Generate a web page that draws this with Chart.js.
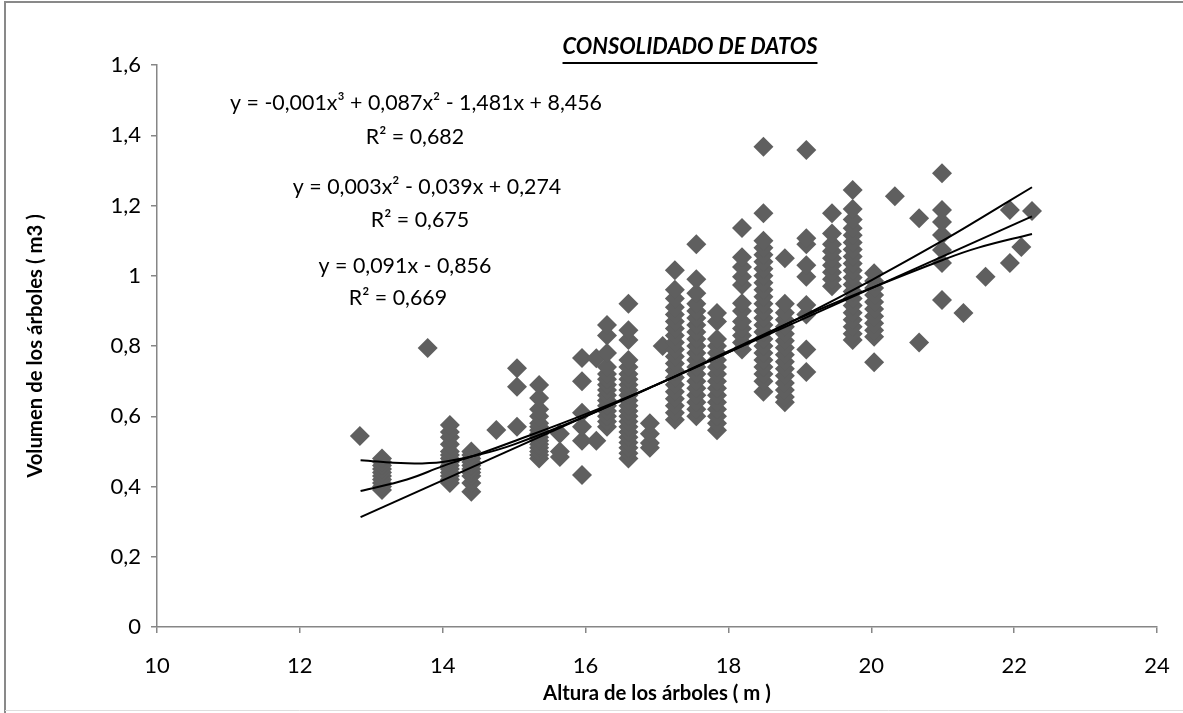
<!DOCTYPE html>
<html>
<head>
<meta charset="utf-8">
<script src="https://cdn.jsdelivr.net/npm/chart.js@4/dist/chart.umd.min.js"></script>
<style>
  body { margin: 0; background: #fff; }
  #wrap { width: 1183px; height: 713px; position: relative; }
</style>
</head>
<body>
<div id="wrap"><canvas id="grafico"></canvas></div>
<script>
// alturas (m) de cada grupo de árboles y sus volúmenes (m3)
const alturas = [12.84, 13.15, 13.79, 14.10, 14.40, 14.75, 15.04, 15.35, 15.64, 15.95, 16.15,
  16.30, 16.60, 16.90, 17.08, 17.25, 17.55, 17.84, 18.19, 18.49, 18.79, 19.09, 19.45, 19.74,
  20.04, 20.33, 20.67, 20.99, 21.29, 21.60, 21.94, 22.10, 22.25];

const volumenes = [
  [0.544],
  [0.39, 0.40, 0.41, 0.42, 0.43, 0.44, 0.45, 0.46, 0.47, 0.48],
  [0.794],
  [0.41, 0.42, 0.43, 0.44, 0.45, 0.46, 0.47, 0.48, 0.49, 0.50, 0.52, 0.54, 0.555, 0.575],
  [0.385, 0.41, 0.43, 0.44, 0.45, 0.46, 0.47, 0.48, 0.49, 0.50],
  [0.561],
  [0.57, 0.684, 0.737],
  [0.48, 0.49, 0.50, 0.51, 0.52, 0.53, 0.54, 0.55, 0.56, 0.57, 0.58, 0.60, 0.62, 0.652, 0.689],
  [0.484, 0.50, 0.55],
  [0.433, 0.53, 0.57, 0.61, 0.70, 0.766],
  [0.53, 0.765],
  [0.57, 0.585, 0.60, 0.615, 0.63, 0.645, 0.66, 0.675, 0.69, 0.705, 0.72, 0.74, 0.78, 0.83, 0.86],
  [0.48, 0.495, 0.51, 0.525, 0.54, 0.555, 0.57, 0.585, 0.60, 0.615, 0.63, 0.645, 0.66, 0.675,
   0.69, 0.705, 0.72, 0.74, 0.76, 0.817, 0.845, 0.92],
  [0.51, 0.524, 0.55, 0.58],
  [0.80],
  [0.59, 0.61, 0.63, 0.65, 0.67, 0.69, 0.71, 0.73, 0.75, 0.77, 0.79, 0.81, 0.83, 0.85, 0.87,
   0.89, 0.91, 0.935, 0.96, 1.016],
  [0.60, 0.62, 0.64, 0.66, 0.68, 0.70, 0.72, 0.74, 0.76, 0.78, 0.80, 0.82, 0.84, 0.86, 0.88,
   0.90, 0.92, 0.95, 0.99, 1.09],
  [0.56, 0.58, 0.60, 0.62, 0.64, 0.66, 0.68, 0.70, 0.72, 0.74, 0.76, 0.78, 0.80, 0.82, 0.87, 0.894],
  [0.79, 0.81, 0.83, 0.85, 0.87, 0.90, 0.922, 0.974, 0.997, 1.025, 1.053, 1.136],
  [0.67, 0.70, 0.72, 0.74, 0.76, 0.78, 0.80, 0.82, 0.84, 0.86, 0.88, 0.90, 0.92, 0.94, 0.96,
   0.98, 1.00, 1.02, 1.04, 1.06, 1.08, 1.10, 1.178, 1.367],
  [0.64, 0.655, 0.675, 0.695, 0.715, 0.735, 0.755, 0.775, 0.795, 0.815, 0.835, 0.855, 0.875,
   0.895, 0.92, 1.05],
  [0.726, 0.79, 0.89, 0.917, 0.997, 1.03, 1.09, 1.107, 1.358],
  [0.97, 0.99, 1.01, 1.03, 1.05, 1.07, 1.09, 1.12, 1.178],
  [0.817, 0.835, 0.855, 0.875, 0.895, 0.915, 0.935, 0.955, 0.975, 0.995, 1.015, 1.035, 1.055,
   1.075, 1.095, 1.115, 1.135, 1.16, 1.19, 1.244],
  [0.754, 0.826, 0.845, 0.865, 0.885, 0.905, 0.925, 0.945, 0.965, 0.985, 1.007],
  [1.226],
  [0.81, 1.164],
  [0.931, 1.036, 1.073, 1.116, 1.153, 1.187, 1.292],
  [0.894],
  [0.997],
  [1.036, 1.187],
  [1.082],
  [1.184]
];

// líneas de tendencia
const tendX = [12.85, 13.5, 14, 14.5, 15, 16, 17, 18, 19, 20, 21, 21.5, 22.25];
const tendPolinomica = [0.475, 0.466, 0.47, 0.49, 0.52, 0.60, 0.69, 0.785, 0.88, 0.965, 1.045, 1.08, 1.119];
const tendCuadratica = [0.387, 0.42, 0.458, 0.492, 0.529, 0.606, 0.69, 0.782, 0.881, 0.987, 1.10, 1.16, 1.252];
const tendLinealX = [12.85, 22.25];
const tendLineal = [0.313, 1.169];

const etiquetasX = ['10', '12', '14', '16', '18', '20', '22', '24'];
const etiquetasY = ['0', '0,2', '0,4', '0,6', '0,8', '1', '1,2', '1,4', '1,6'];

const ecuaciones = [
  'y = -0,001x³ + 0,087x² - 1,481x + 8,456', 'R² = 0,682',
  'y = 0,003x² - 0,039x + 0,274', 'R² = 0,675',
  'y = 0,091x - 0,856', 'R² = 0,669'
];
const titulo = 'CONSOLIDADO DE DATOS';

const medir = document.createElement('canvas').getContext('2d');
function tamFuente(texto, estilo, ancho) {
  medir.font = estilo + ' 100px Lato';
  return 100 * ancho / medir.measureText(texto).width;
}

const puntos = [];
alturas.forEach((h, i) => {
  volumenes[i].forEach(v => puntos.push({ x: h, y: v }));
});

const aPares = (xs, ys) => xs.map((x, i) => ({ x: x, y: ys[i] }));

const tamEc = tamFuente(ecuaciones[0], 'normal', 372);
const tamTitulo = tamFuente(titulo, 'italic bold', 255);
const tamEje = tamFuente('Altura de los árboles ( m )', 'bold', 228);

const textos = {
  id: 'textos',
  afterDraw(chart) {
    const ctx = chart.ctx;
    ctx.save();
    // marco del gráfico
    ctx.strokeStyle = '#898989';
    ctx.lineWidth = 2;
    ctx.beginPath();
    ctx.moveTo(5, 713);
    ctx.lineTo(5, 2);
    ctx.lineTo(1183, 2);
    ctx.stroke();
    ctx.strokeStyle = '#dedede';
    ctx.lineWidth = 1;
    ctx.beginPath();
    ctx.moveTo(5, 710.5);
    ctx.lineTo(1183, 710.5);
    ctx.stroke();

    // título subrayado
    ctx.fillStyle = '#000';
    ctx.textAlign = 'center';
    ctx.textBaseline = 'middle';
    ctx.font = 'italic bold ' + tamTitulo + 'px Lato';
    ctx.fillText(titulo, 690, 47);
    const w = ctx.measureText(titulo).width;
    ctx.strokeStyle = '#000';
    ctx.lineWidth = 2;
    ctx.beginPath();
    ctx.moveTo(690 - w / 2, 63);
    ctx.lineTo(690 + w / 2, 63);
    ctx.stroke();

    // ecuaciones de las tendencias
    ctx.font = tamEc + 'px Lato';
    const pos = [[416, 103], [415, 137], [427, 187], [420, 220], [405, 266], [398, 298]];
    ecuaciones.forEach((t, i) => ctx.fillText(t, pos[i][0], pos[i][1]));
    ctx.restore();
  }
};

const lineaTend = (datos, tension) => ({
  data: datos,
  showLine: true,
  borderColor: '#000',
  borderWidth: 2,
  pointRadius: 0,
  tension: tension,
  order: 0
});

new Chart(document.getElementById('grafico'), {
  type: 'scatter',
  data: {
    datasets: [
      lineaTend(aPares(tendX, tendPolinomica), 0.4),
      lineaTend(aPares(tendX, tendCuadratica), 0.4),
      lineaTend(aPares(tendLinealX, tendLineal), 0),
      {
        data: puntos,
        pointStyle: 'rectRot',
        pointRadius: 10,
        pointBackgroundColor: '#5f5f5f',
        pointBorderWidth: 0,
        order: 1
      }
    ]
  },
  options: {
    responsive: true,
    maintainAspectRatio: false,
    animation: false,
    layout: { padding: { top: 65, right: 26, left: 0, bottom: 0 } },
    plugins: {
      legend: { display: false },
      tooltip: { enabled: false }
    },
    scales: {
      x: {
        min: 10,
        max: 24,
        ticks: {
          stepSize: 2,
          color: '#000',
          font: { family: 'Lato', size: 22 },
          padding: 20,
          maxRotation: 0,
          callback: (v, i) => etiquetasX[i]
        },
        grid: { drawOnChartArea: false, tickLength: 6, color: '#868686', lineWidth: 1.5 },
        border: { color: '#868686', width: 1.5 },
        title: {
          display: true,
          text: 'Altura de los árboles ( m )',
          color: '#000',
          font: { family: 'Lato', size: tamEje, weight: 'bold' },
          padding: { top: 0, bottom: 7 }
        },
        afterFit: (s) => { s.height = 86; s.paddingLeft = 0; s.paddingRight = 0; }
      },
      y: {
        min: 0,
        max: 1.6,
        ticks: {
          stepSize: 0.2,
          color: '#000',
          font: { family: 'Lato', size: 22 },
          padding: 10,
          callback: (v, i) => etiquetasY[i]
        },
        grid: { drawOnChartArea: false, tickLength: 6, color: '#868686', lineWidth: 1.5 },
        border: { color: '#868686', width: 1.5 },
        title: {
          display: true,
          text: 'Volumen de los árboles ( m3 )',
          color: '#000',
          font: { family: 'Lato', size: tamEje, weight: 'bold' },
          padding: { top: 23, bottom: 0 }
        },
        afterFit: (s) => { s.width = 157; s.paddingTop = 0; s.paddingBottom = 0; }
      }
    }
  },
  plugins: [textos]
});
</script>
</body>
</html>
